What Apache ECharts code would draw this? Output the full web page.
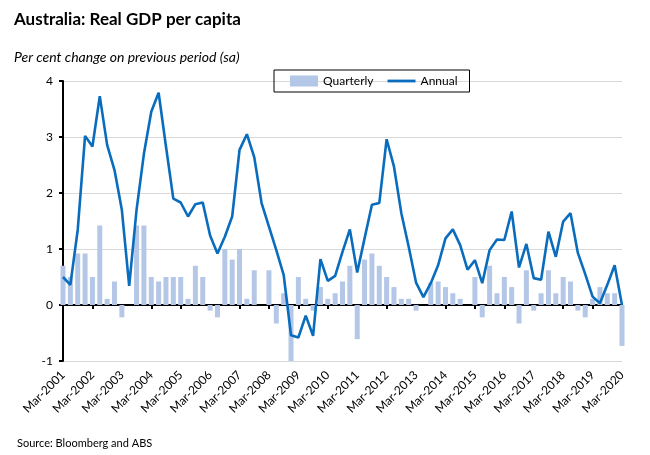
<!DOCTYPE html>
<html style="height: 100%; margin: 0;">
<head>
    <meta charset="utf-8" />
    <title>Australia: Real GDP per capita</title>
    <script src="https://cdn.jsdelivr.net/npm/echarts@6/dist/echarts.min.js"></script>
</head>
<body style="height: 100%; margin: 0; background: #fff;">
<div id="main" style="width: 650px; height: 455px;"></div>
<script type="text/javascript">
// quarter labels Mar-2001 .. Mar-2020
var years = [2001, 2002, 2003, 2004, 2005, 2006, 2007, 2008, 2009, 2010,
             2011, 2012, 2013, 2014, 2015, 2016, 2017, 2018, 2019, 2020];
var months = ['Mar', 'Jun', 'Sep', 'Dec'];
var categories = [];
for (var y = 0; y < years.length; y++) {
    for (var m = 0; m < months.length; m++) {
        if (years[y] === 2020 && m > 0) break;
        categories.push(months[m] + '-' + years[y]);
    }
}

// quarterly % change (bars)
var quarterly = [
    0.7, 0.5, 0.92, 0.92, 0.5, 1.42, 0.11, 0.42, -0.22, 0,
    1.42, 1.42, 0.5, 0.42, 0.5, 0.5, 0.5, 0.11, 0.7, 0.5,
    -0.1, -0.22, 1.0, 0.81, 1.0, 0.11, 0.62, 0, 0.62, -0.33,
    0.21, -1.0, 0.5, 0.11, -0.1, 0.32, 0.11, 0.21, 0.42, 0.7,
    -0.61, 0.81, 0.92, 0.7, 0.5, 0.32, 0.11, 0.11, -0.1, 0,
    0.4, 0.42, 0.32, 0.21, 0.11, 0, 0.5, -0.22, 0.7, 0.21,
    0.5, 0.32, -0.33, 0.62, -0.1, 0.21, 0.62, 0.21, 0.5, 0.42,
    -0.1, -0.22, 0.11, 0.32, 0.21, 0.21, -0.73
];

// annual % change (line)
var annual = [
    0.5, 0.36, 1.34, 3.02, 2.83, 3.73, 2.86, 2.41, 1.7, 0.34,
    1.7, 2.7, 3.45, 3.79, 2.83, 1.9, 1.83, 1.58, 1.8, 1.83,
    1.24, 0.92, 1.22, 1.58, 2.77, 3.05, 2.64, 1.82, 1.4, 0.98,
    0.54, -0.54, -0.58, -0.19, -0.55, 0.82, 0.43, 0.52, 0.95, 1.35,
    0.58, 1.19, 1.79, 1.82, 2.96, 2.47, 1.64, 1.04, 0.4, 0.14,
    0.39, 0.71, 1.19, 1.35, 1.07, 0.63, 0.8, 0.39, 0.98, 1.17,
    1.16, 1.67, 0.67, 1.09, 0.48, 0.45, 1.31, 0.86, 1.49, 1.64,
    0.93, 0.55, 0.15, 0.03, 0.36, 0.71, 0
];

var yTicks = { min: -1, max: 4, interval: 1 };

var font = 'Lato, "Open Sans", sans-serif';
var lineColor = '#0A6CBC';
var myChart = echarts.init(document.getElementById('main'));

myChart.setOption({
    animation: false,
    textStyle: { fontFamily: font },
    title: [{
        text: 'Australia: Real GDP per capita',
        left: 9, top: 6,
        textStyle: { fontFamily: font, fontSize: 17, fontWeight: 'bold', color: '#000' }
    }, {
        text: 'Per cent change on previous period (sa)',
        left: 9, top: 45,
        textStyle: { fontFamily: font, fontSize: 14, fontStyle: 'italic', fontWeight: 'normal', color: '#000' }
    }, {
        text: 'Source: Bloomberg and ABS',
        left: 12, top: 433,
        textStyle: { fontFamily: font, fontSize: 11, fontWeight: 'normal', color: '#000' }
    }],
    legend: {
        left: 274, top: 70,
        padding: [5, 12, 5, 16],
        itemGap: 14,
        itemWidth: 28,
        itemHeight: 11,
        borderColor: '#000',
        borderWidth: 1,
        borderRadius: 0,
        textStyle: { fontFamily: font, fontSize: 12, color: '#000' },
        data: [
            { name: 'Quarterly', icon: 'rect' },
            { name: 'Annual', icon: 'path://M0,0 H30 V3 H0 Z' }
        ]
    },
    grid: { left: 63, right: 28, top: 81, bottom: 94 },
    xAxis: [{
        type: 'category',
        data: categories,
        boundaryGap: false,
        position: 'bottom',
        axisLine: { show: false, onZero: false },
        axisTick: { show: false },
        axisLabel: {
            interval: 3, rotate: 45, margin: 12,
            fontFamily: font, fontSize: 12, color: '#000'
        },
        splitLine: { show: false }
    }, {
        type: 'category',
        data: categories,
        boundaryGap: false,
        position: 'bottom',
        axisLine: { show: true, onZero: true, lineStyle: { color: '#000', width: 2 } },
        axisTick: { show: true, interval: 3, length: 4, lineStyle: { color: '#000', width: 2 } },
        axisLabel: { show: false },
        splitLine: { show: false }
    }],
    yAxis: {
        type: 'value',
        min: yTicks.min, max: yTicks.max, interval: yTicks.interval,
        axisLine: { show: true, lineStyle: { color: '#000', width: 2 } },
        axisTick: { show: true, length: 4, lineStyle: { color: '#000', width: 2 } },
        axisLabel: { margin: 10, fontFamily: font, fontSize: 12, color: '#000' },
        splitLine: { lineStyle: { color: '#D9D9D9', width: 1 } }
    },
    series: [{
        name: 'Quarterly',
        type: 'bar',
        xAxisIndex: 0,
        data: quarterly,
        barWidth: 5,
        clip: false,
        itemStyle: { color: '#B4C7E7' }
    }, {
        name: 'Annual',
        type: 'line',
        xAxisIndex: 0,
        data: annual,
        symbol: 'none',
        showSymbol: false,
        z: 5,
        lineStyle: { color: lineColor, width: 2.6 },
        itemStyle: { color: lineColor }
    }]
});

window.onresize = myChart.resize;
</script>
</body>
</html>
